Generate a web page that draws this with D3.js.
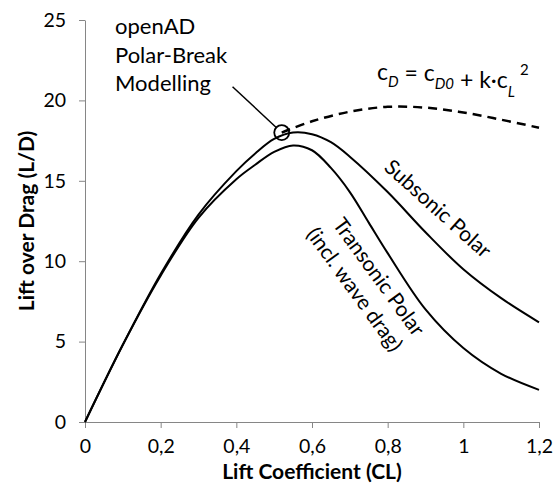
<!doctype html>
<html>
<head>
<meta charset="utf-8">
<title>L/D polar</title>
<style>
    body { margin: 0; background: #fff; }
    svg { display: block; font-family: Lato, "Liberation Sans", sans-serif; }
    .axis path, .axis line { stroke: #868686; }
    .axis text { fill: #000; font-size: 19.5px; font-family: Lato, sans-serif; }
    .polar { fill: none; stroke: #000; stroke-width: 2px; }
    .ideal { fill: none; stroke: #000; stroke-width: 2.5px; stroke-dasharray: 9 6; }
    .title { font-weight: bold; font-size: 21px; }
    .note { font-size: 22px; }
    .curve-label { font-size: 21px; }
</style>
</head>
<body>
<svg id="plot" width="559" height="483"></svg>
<script src="https://d3js.org/d3.v7.min.js"></script>
<script>
// values
const subCL  = [0, 0.1, 0.2, 0.3, 0.4, 0.45, 0.5, 0.55, 0.6, 0.65, 0.7, 0.8, 0.9, 1.0, 1.1, 1.2];
const subLD  = [0, 4.8, 9.2, 12.9, 15.6, 16.7, 17.6, 18.0, 17.9, 17.4, 16.5, 14.3, 11.8, 9.5, 7.7, 6.2];

const tranCL = [0, 0.1, 0.2, 0.3, 0.4, 0.45, 0.5, 0.55, 0.6, 0.65, 0.7, 0.75, 0.8, 0.9, 1.0, 1.1, 1.2];
const tranLD = [0, 4.8, 9.1, 12.7, 15.1, 16.0, 16.8, 17.2, 16.9, 15.8, 14.3, 12.4, 10.5, 7.0, 4.6, 3.0, 2.0];

// c_D = c_D0 + k*c_L^2 branch, dashed
const idealCL = [0.52, 0.6, 0.7, 0.8, 0.9, 1.0, 1.1, 1.2];
const idealLD = [18.0, 18.7, 19.3, 19.6, 19.55, 19.25, 18.8, 18.3];

const breakPoint = [0.52, 18.0];
const leaderFrom = [0.39, 20.85];

const xTicks = [0, 0.2, 0.4, 0.6, 0.8, 1, 1.2];
const yTicks = [0, 5, 10, 15, 20, 25];

let svg = d3.select("svg"),
    margin = {top: 20, right: 20, bottom: 61, left: 85},
    width = +svg.attr("width") - margin.left - margin.right,
    height = +svg.attr("height") - margin.top - margin.bottom,
    g = svg.append("g").attr("transform", "translate(" + margin.left + "," + margin.top + ")");

let x = d3.scaleLinear().domain([0, 1.2]).range([0, width]);
let y = d3.scaleLinear().domain([0, 25]).range([height, 0]);

let fmt = d => String(d).replace(".", ",");

g.append("g")
    .attr("class", "axis axis--x")
    .attr("transform", "translate(0," + height + ")")
    .call(d3.axisBottom(x).tickValues(xTicks).tickFormat(fmt).tickSize(6).tickSizeOuter(0).tickPadding(11));

g.append("g")
    .attr("class", "axis axis--y")
    .call(d3.axisLeft(y).tickValues(yTicks).tickSize(6).tickSizeOuter(0).tickPadding(13));

let zip = (a, b) => a.map((v, i) => [v, b[i]]);

let line = d3.line()
    .x(d => x(d[0]))
    .y(d => y(d[1]))
    .curve(d3.curveCatmullRom.alpha(0.5));

g.append("path")
    .datum(zip(subCL, subLD))
    .attr("class", "polar")
    .attr("d", line);

g.append("path")
    .datum(zip(tranCL, tranLD))
    .attr("class", "polar")
    .attr("d", line);

g.append("path")
    .datum(zip(idealCL, idealLD))
    .attr("class", "ideal")
    .attr("d", line);

// polar-break marker + leader
let cx = x(breakPoint[0]), cy = y(breakPoint[1]), r = 7.5;
let lx = x(leaderFrom[0]), ly = y(leaderFrom[1]);
let ang = Math.atan2(ly - cy, lx - cx);
g.append("line")
    .attr("x1", lx).attr("y1", ly)
    .attr("x2", cx + r * Math.cos(ang)).attr("y2", cy + r * Math.sin(ang))
    .attr("stroke", "#000").attr("stroke-width", 1.5);
g.append("circle")
    .attr("cx", cx).attr("cy", cy).attr("r", r)
    .attr("fill", "none").attr("stroke", "#000").attr("stroke-width", 1.8);

// annotation
let note = svg.append("text").attr("class", "note").attr("x", 115).attr("y", 34);
["openAD", "Polar-Break", "Modelling"].forEach((t, i) => {
    note.append("tspan").attr("x", 115).attr("dy", i ? 28.5 : 0).text(t);
});

// formula
let f = svg.append("text").attr("x", 377).attr("y", 80).style("font-size", "23px");
f.append("tspan").text("c");
f.append("tspan").attr("dy", 7).style("font-size", "15px").style("font-style", "italic").text("D");
f.append("tspan").attr("dy", -6).text(" = c");
f.append("tspan").attr("dy", 8).style("font-size", "15px").style("font-style", "italic").text("D0");
f.append("tspan").attr("dy", -1).text(" + k·c");
f.append("tspan").attr("dy", 9).style("font-size", "15px").style("font-style", "italic").text("L");
f.append("tspan").attr("dy", -22).attr("dx", 5).style("font-size", "15px").text("2");

// curve labels
svg.append("text").attr("class", "curve-label")
    .attr("text-anchor", "middle")
    .attr("transform", "translate(433,214) rotate(42)")
    .text("Subsonic Polar");

let tl = svg.append("text").attr("class", "curve-label")
    .attr("text-anchor", "middle")
    .attr("transform", "translate(373,281) rotate(54)");
tl.append("tspan").attr("x", 0).attr("y", 0).text("Transonic Polar");
tl.append("tspan").attr("x", -4).attr("y", 27).text("(incl. wave drag)");

// axis titles
svg.append("text").attr("class", "title")
    .attr("text-anchor", "middle")
    .attr("x", margin.left + width / 2).attr("y", 479)
    .text("Lift Coefficient (CL)");

svg.append("text").attr("class", "title")
    .attr("text-anchor", "middle")
    .attr("transform", "translate(34," + (margin.top + height / 2) + ") rotate(-90)")
    .text("Lift over Drag (L/D)");
</script>
</body>
</html>
